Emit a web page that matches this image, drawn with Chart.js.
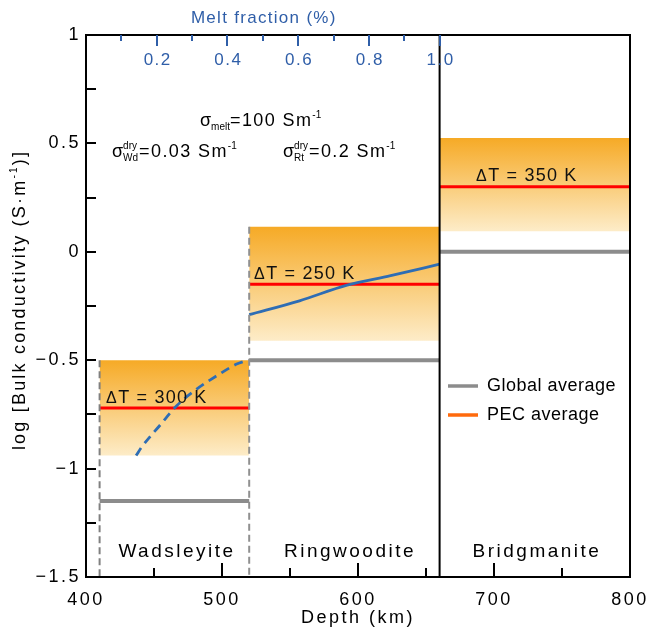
<!DOCTYPE html>
<html><head><meta charset="utf-8">
<script src="https://cdn.jsdelivr.net/npm/chart.js@4.4.0/dist/chart.umd.min.js"></script>
<style>html,body{margin:0;padding:0;background:#fff}#wrap{width:652px;height:630px;position:relative}</style>
</head><body><div id="wrap"><canvas id="c" width="652" height="630"></canvas></div>
<script>
// ---- data ----
const regionNames = ['Wadsleyite', 'Ringwoodite', 'Bridgmanite'];
const regionStart = [410, 520, 660];
const regionEnd = [520, 660, 800];
const globalAverage = [-1.15, -0.50, 0.00];
const pecAverage = [-0.72, -0.15, 0.30];
const pecUpper = [-0.50, 0.115, 0.525];
const pecLower = [-0.94, -0.41, 0.095];
const deltaT = [300, 250, 350];
const wdMeltDepth = [436.8, 441, 454.4, 466.7, 481.4, 496.1, 510.8, 519];
const wdMeltLogSigma = [-0.94, -0.90, -0.80, -0.71, -0.633, -0.572, -0.518, -0.50];
const rtMeltDepth = [520, 557, 592, 624, 660];
const rtMeltLogSigma = [-0.29, -0.226, -0.154, -0.11, -0.057];
const depthTickLabels = [400, 500, 600, 700, 800];
const logTickLabels = [-1.5, -1, -0.5, 0, 0.5, 1];
const meltTickLabels = [0.2, 0.4, 0.6, 0.8, 1.0];
const meltZeroDepth = 400, meltFullDepth = 660; // melt fraction 0 -> 1 over this depth range

const FONT = 'Liberation Sans, Arial, sans-serif';
const BLUE = '#2e6db4';
const AXBLUE = '#2f5ea8';
const GRAY = '#8c8c8c';
const RED = '#ff0000';

function grad(chart, top, bottom) {
  const ys = chart.scales && chart.scales.y;
  if (!ys) return 'rgb(248,196,110)';
  const p0 = ys.getPixelForValue(top), p1 = ys.getPixelForValue(bottom);
  if (!isFinite(p0) || !isFinite(p1) || p0 === p1) return 'rgb(248,196,110)';
  const g = chart.ctx.createLinearGradient(0, p0, 0, p1);
  g.addColorStop(0, 'rgb(246,170,38)');
  g.addColorStop(1, 'rgb(253,236,200)');
  return g;
}

const datasets = [];
regionNames.forEach((n, i) => {
  datasets.push({
    label: n + ' PEC range',
    data: [{x: regionStart[i], y: pecUpper[i]}, {x: regionEnd[i], y: pecUpper[i]}],
    borderWidth: 0, pointRadius: 0, fill: '+1', order: 20, borderColor: 'rgba(0,0,0,0)',
    backgroundColor: (ctx) => grad(ctx.chart, pecUpper[i], pecLower[i])
  });
  datasets.push({
    label: n + ' PEC low',
    data: [{x: regionStart[i], y: pecLower[i]}, {x: regionEnd[i], y: pecLower[i]}],
    borderWidth: 0, pointRadius: 0, fill: false, order: 19, borderColor: 'rgba(0,0,0,0)'
  });
});
regionNames.forEach((n, i) => {
  datasets.push({
    label: 'Global average',
    data: [{x: regionStart[i], y: globalAverage[i]}, {x: regionEnd[i], y: globalAverage[i]}],
    borderColor: GRAY, borderWidth: 4, pointRadius: 0, fill: false, order: 6
  });
  datasets.push({
    label: 'PEC average',
    data: [{x: regionStart[i], y: pecAverage[i]}, {x: regionEnd[i], y: pecAverage[i]}],
    borderColor: RED, borderWidth: 3, pointRadius: 0, fill: false, order: 5
  });
});
datasets.push({
  label: 'Wadsleyite melt',
  data: wdMeltDepth.map((d, k) => ({x: d, y: wdMeltLogSigma[k]})),
  borderColor: BLUE, borderWidth: 2.8, borderDash: [9, 6], pointRadius: 0, fill: false,
  cubicInterpolationMode: 'monotone', order: 4
});
datasets.push({
  label: 'Ringwoodite melt',
  data: rtMeltDepth.map((d, k) => ({x: d, y: rtMeltLogSigma[k]})),
  borderColor: BLUE, borderWidth: 2.8, pointRadius: 0, fill: false,
  cubicInterpolationMode: 'monotone', order: 4
});
// boundaries
datasets.push({
  label: 'b410', data: [{x: regionStart[0], y: pecUpper[0]}, {x: regionStart[0], y: -1.5}],
  borderColor: '#808080', borderWidth: 2, borderDash: [7, 4], pointRadius: 0, fill: false, order: 3
});
datasets.push({
  label: 'b520', data: [{x: regionStart[1], y: pecUpper[1]}, {x: regionStart[1], y: -1.5}],
  borderColor: '#909090', borderWidth: 2, borderDash: [7, 4], pointRadius: 0, fill: false, order: 3
});
datasets.push({
  label: 'b660', data: [{x: regionStart[2], y: 1}, {x: regionStart[2], y: -1.5}],
  borderColor: '#000', borderWidth: 2, pointRadius: 0, fill: false, order: 2
});

function drawRuns(ctx, x, y, parts, color) {
  ctx.save();
  ctx.fillStyle = color || '#000';
  ctx.textBaseline = 'alphabetic';
  ctx.textAlign = 'left';
  for (const p of parts) {
    if (p.sup !== undefined) {
      ctx.font = (p.size || 10) + 'px ' + FONT;
      ctx.letterSpacing = '0px';
      ctx.fillText(p.sup, x, y - 8);
      ctx.fillText(p.sub, x, y + 4);
      x += Math.max(ctx.measureText(p.sup).width, ctx.measureText(p.sub).width) + 1;
    } else {
      ctx.font = p.size + 'px ' + FONT;
      ctx.letterSpacing = (p.ls || 0) + 'px';
      ctx.fillText(p.t, x, y + (p.dy || 0));
      x += ctx.measureText(p.t).width;
    }
  }
  ctx.restore();
}

const deco = {
  id: 'deco',
  beforeDraw(chart) { chart.ctx.letterSpacing = '2.5px'; },
  afterDraw(chart) {
    const ctx = chart.ctx, a = chart.chartArea;
    const xs = chart.scales.x, ys = chart.scales.y, xt = chart.scales.x2;
    ctx.save();
    ctx.letterSpacing = '0px';
    ctx.strokeStyle = '#000'; ctx.lineWidth = 2;
    ctx.strokeRect(a.left, a.top, a.right - a.left, a.bottom - a.top);
    ctx.beginPath();
    for (let v = 450; v < 800; v += 50) {
      const px = Math.round(xs.getPixelForValue(v));
      const len = v % 100 === 0 ? 14 : 9;
      ctx.moveTo(px, a.bottom); ctx.lineTo(px, a.bottom - len);
    }
    for (let v = -1.25; v < 1; v += 0.25) {
      const py = Math.round(ys.getPixelForValue(v));
      ctx.moveTo(a.left, py); ctx.lineTo(a.left + 10, py);
    }
    ctx.stroke();
    ctx.strokeStyle = AXBLUE;
    ctx.beginPath();
    for (let k = 1; k <= 10; k++) {
      const px = Math.round(xt.getPixelForValue(k / 10));
      const len = k % 2 === 0 ? 11 : 6;
      ctx.moveTo(px, a.top); ctx.lineTo(px, a.top + len);
    }
    ctx.stroke();
    ctx.font = '17px ' + FONT;
    ctx.letterSpacing = '1.5px';
    ctx.fillStyle = AXBLUE; ctx.textAlign = 'center'; ctx.textBaseline = 'middle';
    meltTickLabels.forEach(v => {
      ctx.fillText(v.toFixed(1), xt.getPixelForValue(v) + 1, a.top + 25);
    });
    // top axis title centred over melt fraction 0..1
    ctx.font = '17px ' + FONT; ctx.letterSpacing = '1.3px';
    ctx.fillText('Melt fraction (%)', (xt.getPixelForValue(0) + xt.getPixelForValue(1)) / 2 + 1, 18);
    ctx.restore();

    drawRuns(ctx, 200, 126, [
      {t: 'σ', size: 18}, {t: 'melt', size: 10, dy: 4},
      {t: '=100 Sm', size: 18, ls: 1.4}, {t: '-1', size: 10, dy: -8}]);
    drawRuns(ctx, 112, 157, [
      {t: 'σ', size: 18}, {sup: 'dry', sub: 'Wd', size: 10},
      {t: '=0.03 Sm', size: 18, ls: 1.4}, {t: '-1', size: 10, dy: -8}]);
    drawRuns(ctx, 283, 157, [
      {t: 'σ', size: 18}, {sup: 'dry', sub: 'Rt', size: 10},
      {t: '=0.2 Sm', size: 18, ls: 1.4}, {t: '-1', size: 10, dy: -8}]);

    const dtPos = [[106, 403], [254, 279], [476, 181]];
    deltaT.forEach((d, i) => {
      drawRuns(ctx, dtPos[i][0], dtPos[i][1], [
        {t: 'Δ', size: 16, ls: 1.5}, {t: 'T = ' + d + ' K', size: 18, ls: 1.2}], '#111');
    });

    ctx.save();
    ctx.font = '19px ' + FONT; ctx.letterSpacing = '2.5px';
    ctx.fillStyle = '#000'; ctx.textAlign = 'center'; ctx.textBaseline = 'alphabetic';
    const nameX = [177, 350, 537];
    regionNames.forEach((n, i) => ctx.fillText(n, nameX[i], 557));
    ctx.restore();

    ctx.save();
    ctx.lineWidth = 3.5;
    ctx.strokeStyle = GRAY; ctx.beginPath(); ctx.moveTo(448, 386); ctx.lineTo(478, 386); ctx.stroke();
    ctx.strokeStyle = '#ff6a0d'; ctx.beginPath(); ctx.moveTo(448, 415); ctx.lineTo(478, 415); ctx.stroke();
    ctx.font = '18px ' + FONT; ctx.letterSpacing = '0.5px';
    ctx.fillStyle = '#000'; ctx.textBaseline = 'middle'; ctx.textAlign = 'left';
    ctx.fillText('Global average', 487, 386);
    ctx.fillText('PEC average', 487, 415);
    ctx.restore();

    ctx.save();
    ctx.translate(25, 300); ctx.rotate(-Math.PI / 2);
    ctx.letterSpacing = '2.2px';
    const t1 = 'log [Bulk conductivity (S·m', t2 = '-1', t3 = ')]';
    ctx.font = '18px ' + FONT; const w1 = ctx.measureText(t1).width, w3 = ctx.measureText(t3).width;
    ctx.font = '10px ' + FONT; const w2 = ctx.measureText(t2).width;
    let x0 = -(w1 + w2 + w3) / 2;
    ctx.fillStyle = '#000'; ctx.textBaseline = 'alphabetic'; ctx.textAlign = 'left';
    ctx.font = '18px ' + FONT; ctx.fillText(t1, x0, 0); x0 += w1;
    ctx.font = '10px ' + FONT; ctx.fillText(t2, x0, -8); x0 += w2;
    ctx.font = '18px ' + FONT; ctx.fillText(t3, x0, 0);
    ctx.restore();
  }
};

new Chart(document.getElementById('c'), {
  type: 'line',
  data: {datasets},
  options: {
    responsive: false, animation: false,
    layout: {padding: {right: 22, left: 0, top: 0, bottom: 0}},
    plugins: {legend: {display: false}, tooltip: {enabled: false}},
    scales: {
      x: {
        type: 'linear', position: 'bottom', min: 400, max: 800,
        afterBuildTicks: (s) => { s.ticks = depthTickLabels.map(v => ({value: v})); },
        grid: {display: false, drawTicks: false}, border: {display: false},
        ticks: {font: {family: FONT, size: 18}, color: '#000', padding: 12, maxRotation: 0, autoSkip: false},
        title: {display: true, text: 'Depth (km)', font: {family: FONT, size: 18}, color: '#000', padding: {top: 0, bottom: 1}},
        afterFit: (s) => { s.height = 53; s.paddingLeft = 0; s.paddingRight = 0; }
      },
      x2: {
        type: 'linear', position: 'top', min: 0, max: (800 - meltZeroDepth) / (meltFullDepth - meltZeroDepth),
        grid: {display: false, drawTicks: false}, border: {display: false},
        ticks: {display: false},
        title: {display: false},
        afterFit: (s) => { s.height = 35; s.paddingLeft = 0; s.paddingRight = 0; }
      },
      y: {
        type: 'linear', min: -1.5, max: 1,
        afterBuildTicks: (s) => { s.ticks = logTickLabels.map(v => ({value: v})); },
        grid: {display: false, drawTicks: false}, border: {display: false},
        ticks: {font: {family: FONT, size: 18}, color: '#000', padding: 5, autoSkip: false,
          callback: (v) => String(v).replace('-', '\u2212')},
        afterFit: (s) => { s.width = 86; s.paddingTop = 0; s.paddingBottom = 0; }
      }
    }
  },
  plugins: [deco]
});
</script>
</body></html>
